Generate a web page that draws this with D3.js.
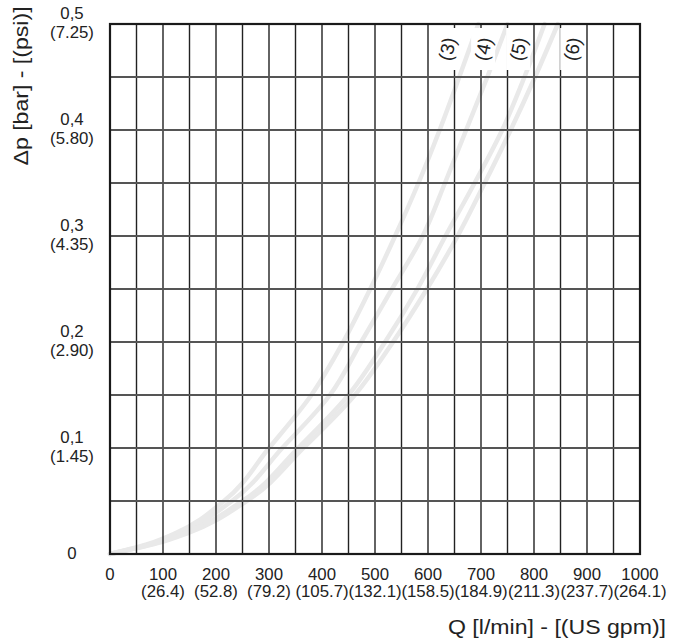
<!DOCTYPE html>
<html>
<head>
<meta charset="utf-8">
<script src="https://cdn.jsdelivr.net/npm/d3@7"></script>
<style>
  body { margin: 0; background: #fff; }
  text { font-family: "Liberation Sans", Arial, sans-serif; fill: #222; }
</style>
</head>
<body>
<svg id="chart" width="681" height="642"></svg>
<script>
// flow ticks, l/min and US gpm
const qTicks = [0, 100, 200, 300, 400, 500, 600, 700, 800, 900, 1000];
const gpmLabels = ['', '(26.4)', '(52.8)', '(79.2)', '(105.7)', '(132.1)', '(158.5)', '(184.9)', '(211.3)', '(237.7)', '(264.1)'];
// pressure ticks, bar and psi
const pTicks = [0, 0.1, 0.2, 0.3, 0.4, 0.5];
const barLabels = ['0', '0,1', '0,2', '0,3', '0,4', '0,5'];
const psiLabels = ['', '(1.45)', '(2.90)', '(4.35)', '(5.80)', '(7.25)'];

// curves: Δp values and flow read at each
const dp = [0, 0.01, 0.02, 0.05, 0.1, 0.15, 0.2, 0.25, 0.3, 0.35, 0.4, 0.45, 0.5];
const curveNames = ['(3)', '(4)', '(5)', '(6)'];
const q3 = [0, 75, 125, 215, 300, 380, 440, 491, 538, 582, 622, 659, 695];
const q4 = [0, 80, 132, 230, 325, 415, 474, 532, 590, 632, 672, 712, 750];
const q5 = [0, 85, 142, 250, 355, 450, 519, 580, 633, 688, 740, 782, 820];
const q6 = [0, 88, 148, 258, 365, 462, 534, 598, 656, 707, 756, 802, 845];
const series = [q3, q4, q5, q6];
// where the curve names sit along Q
const nameQ = [636, 704, 770, 872];

const margin = {top: 24, right: 41, bottom: 88, left: 110};
const W = 681, H = 642;

const svg = d3.select('#chart');

let x = d3.scaleLinear().domain([0, 1000]).range([margin.left, W - margin.right]);
let y = d3.scaleLinear().domain([0, 0.5]).range([H - margin.bottom, margin.top]);

// curves first, grid goes on top
let line = d3.line()
    .x(d => x(d[0]))
    .y(d => y(d[1]))
    .curve(d3.curveMonotoneY);

svg.append('g').selectAll('path')
    .data(series)
    .join('path')
    .attr('d', s => line(s.map((v, i) => [v, dp[i]])))
    .attr('fill', 'none')
    .attr('stroke', '#e9e9e9')
    .attr('stroke-width', 4.5)
    .attr('stroke-linecap', 'round');

// grid
let grid = svg.append('g');
grid.selectAll('line.v')
    .data(d3.range(0, 1001, 50))
    .join('line')
    .attr('class', 'v')
    .attr('x1', d => x(d)).attr('x2', d => x(d))
    .attr('y1', y(0)).attr('y2', y(0.5))
    .attr('stroke', '#222')
    .attr('stroke-width', 1.4);

grid.selectAll('line.h')
    .data(d3.range(0, 11).map(i => i * 0.05))
    .join('line')
    .attr('class', 'h')
    .attr('x1', x(0)).attr('x2', x(1000))
    .attr('y1', d => y(d)).attr('y2', d => y(d))
    .attr('stroke', '#555')
    .attr('stroke-width', 1.8);

grid.append('rect')
    .attr('x', x(0)).attr('y', y(0.5))
    .attr('width', x(1000) - x(0)).attr('height', y(0) - y(0.5))
    .attr('fill', 'none')
    .attr('stroke', '#1a1a1a')
    .attr('stroke-width', 2.2);

// curve names with white background
let names = svg.append('g');
curveNames.forEach((n, i) => {
    let cx = x(nameQ[i]), cy = 49;
    names.append('rect')
        .attr('x', cx - 12).attr('y', cy - 21)
        .attr('width', 24).attr('height', 42)
        .attr('fill', '#fff');
    names.append('text')
        .attr('transform', `translate(${cx},${cy}) rotate(-78)`)
        .attr('text-anchor', 'middle')
        .attr('dy', '0.36em')
        .attr('font-size', 19)
        .text(n);
});

// x tick labels
let xl = svg.append('g');
qTicks.forEach((q, i) => {
    let t = xl.append('text')
        .attr('transform', `translate(${x(q)},0) scale(1.05,1)`)
        .attr('text-anchor', 'middle')
        .attr('font-size', 16);
    t.append('tspan').attr('x', 0).attr('y', 580).text(q);
    if (gpmLabels[i]) t.append('tspan').attr('x', 0).attr('y', 597).text(gpmLabels[i]);
});

// y tick labels
let yl = svg.append('g');
pTicks.forEach((p, i) => {
    let t = yl.append('text')
        .attr('transform', `translate(72,0) scale(1.05,1)`)
        .attr('text-anchor', 'middle')
        .attr('font-size', 16);
    if (psiLabels[i]) {
        t.append('tspan').attr('x', 0).attr('y', y(p) - 5).text(barLabels[i]);
        t.append('tspan').attr('x', 0).attr('y', y(p) + 14).text(psiLabels[i]);
    } else {
        t.append('tspan').attr('x', 0).attr('y', y(p) + 5).text(barLabels[i]);
    }
});

// axis titles
svg.append('text')
    .attr('transform', `translate(557,634) scale(1.1,1)`)
    .attr('text-anchor', 'middle')
    .attr('font-size', 21)
    .text('Q [l/min] - [(US gpm)]');

svg.append('text')
    .attr('transform', `translate(28,86) rotate(-90) scale(1.1,1)`)
    .attr('text-anchor', 'middle')
    .attr('font-size', 21)
    .text('Δp [bar] - [(psi)]');
</script>
</body>
</html>
